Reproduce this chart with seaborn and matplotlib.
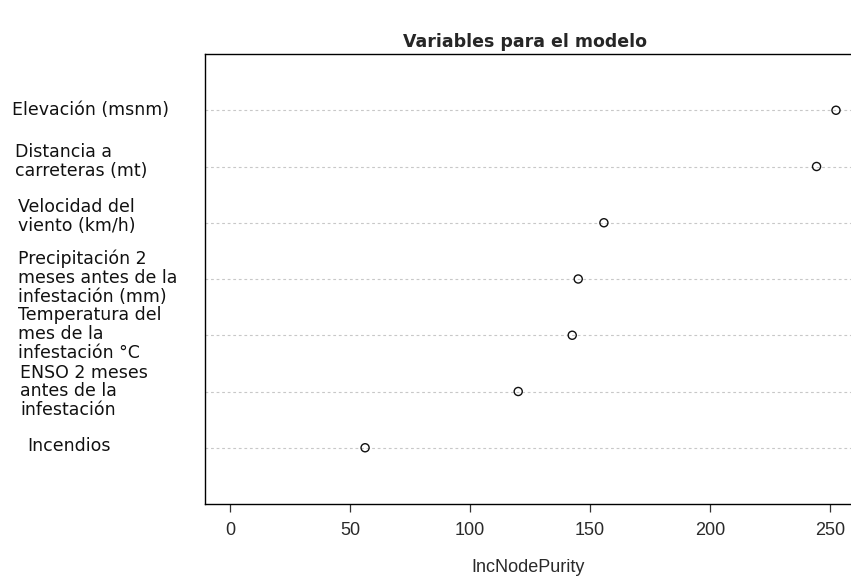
import matplotlib
matplotlib.use("Agg")
import matplotlib.pyplot as plt
import matplotlib.transforms as mtransforms
import numpy as np
import pandas as pd
import seaborn as sns

# Datos (de arriba hacia abajo)
variables = [
    "Elevación (msnm)",
    "Distancia a\ncarreteras (mt)",
    "Velocidad del\nviento (km/h)",
    "Precipitación 2\nmeses antes de la\ninfestación (mm)",
    "Temperatura del\nmes de la\ninfestación °C",
    "ENSO 2 meses\nantes de la\ninfestación",
    "Incendios",
]
inc_node_purity = [252.5, 244.4, 155.8, 145.1, 142.6, 120.1, 56.3]
x_ticks = [0, 50, 100, 150, 200, 250]

df = pd.DataFrame({"variable": variables, "IncNodePurity": inc_node_purity})
df["pos"] = len(df) - np.arange(len(df))

# posicion de cada etiqueta (px desde la izquierda, desplazamiento vertical px)
label_left_px = [12, 15, 18, 18, 18, 20, 27]
label_dy_px = [0, -5, -6, -1, -1, 0, -2]

sns.set_style("white")
plt.rcParams["font.family"] = ["DejaVu Sans"]

fig = plt.figure(figsize=(8.51, 5.79), dpi=100)
ax = fig.add_axes([205 / 851, 75 / 579, 646 / 851, 450 / 579])

for p in df["pos"]:
    ax.axhline(p, color="#c8c8c8", lw=0.8, ls=(0, (2.5, 2.5)), zorder=1)

sns.scatterplot(data=df, x="IncNodePurity", y="pos", ax=ax, marker="o",
                s=34, facecolor="none", edgecolor="#111111", linewidth=1.0,
                zorder=3)

ax.set_xlim(-10.4, 258.75)
ax.set_ylim(0, 8)
ax.set_xticks(x_ticks)
ax.set_xticklabels([str(t) for t in x_ticks], family="Liberation Sans",
                   fontsize=13, color="#2a2a2a")
ax.tick_params(axis="x", direction="out", length=6, width=0.9,
               color="#333333", pad=7, bottom=True)

# etiquetas de las variables
ax.set_yticks(df["pos"])
ax.set_yticklabels([])
ax.tick_params(axis="y", length=0)
blend = mtransforms.blended_transform_factory(fig.transFigure, ax.transData)
for (_, row), lx, dy in zip(df.iterrows(), label_left_px, label_dy_px):
    off = mtransforms.ScaledTranslation(0, -dy / 100, fig.dpi_scale_trans)
    ax.text(lx / 851, row["pos"], row["variable"], transform=blend + off,
            ha="left", va="center", fontsize=12.5, linespacing=1.06,
            color="#111111", clip_on=False)

for side in ["left", "bottom", "top"]:
    ax.spines[side].set_color("black")
    ax.spines[side].set_linewidth(1.0)
ax.spines["right"].set_visible(False)

ax.set_xlabel("IncNodePurity", family="Liberation Sans", fontsize=13,
              color="#2a2a2a", labelpad=14)
ax.set_ylabel("")

fig.text(525 / 851, 1 - 42 / 579, "Variables para el modelo", ha="center",
         va="center", fontsize=12.5, fontweight="bold")

fig.savefig("out.png", dpi=100)
